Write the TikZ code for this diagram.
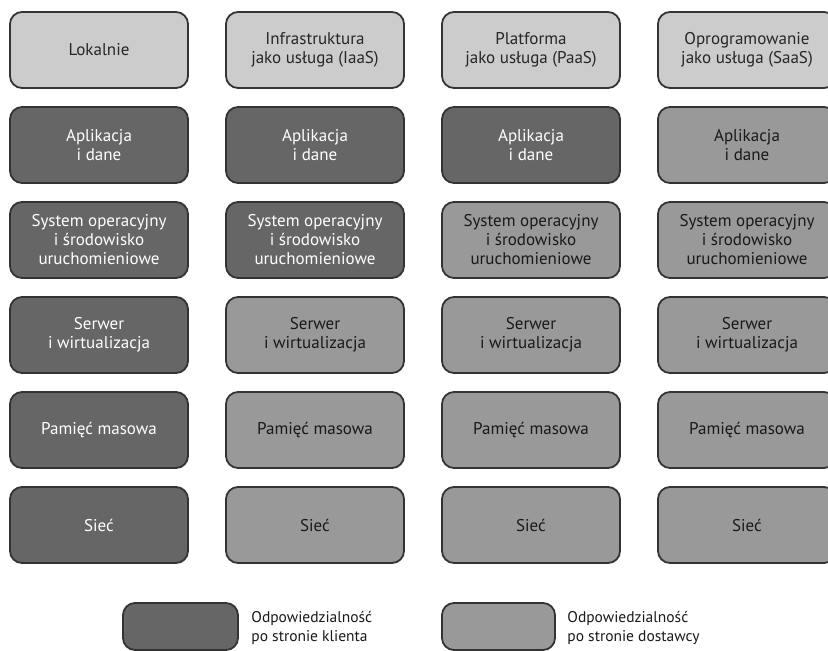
\documentclass[tikz,border=0pt]{standalone}
\usepackage{fontspec}
\setmainfont{PT Sans}

\begin{document}
\begin{tikzpicture}[x = 1pt, y = -1pt, thick]
        \tikzstyle{box} = [shape = rectangle, rounded corners = 12pt, draw = black!80, line width = 1.8pt, minimum width = 178pt, minimum height = 76pt, inner sep = 2pt, align = center, font = \fontsize{17}{19}\selectfont]
        \tikzstyle{boxlight} = [box, fill = black!20, text = black!85]
        \tikzstyle{boxmid} = [box, fill = black!40, text = black!90]
        \tikzstyle{boxdark} = [box, fill = black!60, text = white]
        \tikzstyle{legend} = [anchor = west, align = left, inner sep = 0pt, font = \fontsize{15.5}{19}\selectfont, text = black!90]
        \useasboundingbox (0, 0) rectangle (828, 651);
        % naglowki
        \node[boxlight] (H-1) at (99, 50) {Lokalnie};
        \node[boxlight] (H-2) at (315, 50) {Infrastruktura\\jako usługa (IaaS)};
        \node[boxlight] (H-3) at (531, 50) {Platforma\\jako usługa (PaaS)};
        \node[boxlight] (H-4) at (747, 50) {Oprogramowanie\\jako usługa (SaaS)};
        % aplikacja
        \node[boxdark] (A-1) at (99, 145) {Aplikacja\\i dane};
        \node[boxdark] (A-2) at (315, 145) {Aplikacja\\i dane};
        \node[boxdark] (A-3) at (531, 145) {Aplikacja\\i dane};
        \node[boxmid] (A-4) at (747, 145) {Aplikacja\\i dane};
        % system
        \node[boxdark] (S-1) at (99, 240) {System operacyjny\\i środowisko\\uruchomieniowe};
        \node[boxdark] (S-2) at (315, 240) {System operacyjny\\i środowisko\\uruchomieniowe};
        \node[boxmid] (S-3) at (531, 240) {System operacyjny\\i środowisko\\uruchomieniowe};
        \node[boxmid] (S-4) at (747, 240) {System operacyjny\\i środowisko\\uruchomieniowe};
        % serwer
        \node[boxdark] (W-1) at (99, 335) {Serwer\\i wirtualizacja};
        \node[boxmid] (W-2) at (315, 335) {Serwer\\i wirtualizacja};
        \node[boxmid] (W-3) at (531, 335) {Serwer\\i wirtualizacja};
        \node[boxmid] (W-4) at (747, 335) {Serwer\\i wirtualizacja};
        % pamiec
        \node[boxdark] (P-1) at (99, 430) {Pamięć masowa};
        \node[boxmid] (P-2) at (315, 430) {Pamięć masowa};
        \node[boxmid] (P-3) at (531, 430) {Pamięć masowa};
        \node[boxmid] (P-4) at (747, 430) {Pamięć masowa};
        % siec
        \node[boxdark] (N-1) at (99, 525) {Sieć};
        \node[boxmid] (N-2) at (315, 525) {Sieć};
        \node[boxmid] (N-3) at (531, 525) {Sieć};
        \node[boxmid] (N-4) at (747, 525) {Sieć};
        % legenda
        \node[boxdark, minimum width = 115pt, minimum height = 47pt] (K-box) at (180.5, 626.5) {};
        \node[legend] (K-txt) at (251, 628) {Odpowiedzialność\\po stronie klienta};
        \node[boxmid, minimum width = 113pt, minimum height = 47pt] (D-box) at (498.5, 626.5) {};
        \node[legend] (D-txt) at (567, 628) {Odpowiedzialność\\po stronie dostawcy};
      \end{tikzpicture}
\end{document}
